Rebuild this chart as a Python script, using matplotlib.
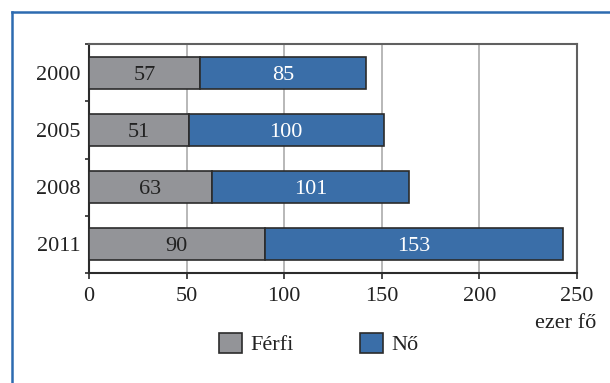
import matplotlib

matplotlib.use("Agg")

import matplotlib.pyplot as plt
from matplotlib.lines import Line2D
from matplotlib.patches import Patch

years = ["2000", "2005", "2008", "2011"]
ferfi = [57, 51, 63, 90]
no = [85, 100, 101, 153]
x_ticks = [0, 50, 100, 150, 200, 250]

GREY = "#939498"
BLUE = "#3a6ea8"
EDGE = "#2b2b2b"
TEXT = "#222222"

plt.rcParams["font.family"] = ["Liberation Serif", "DejaVu Serif"]
plt.rcParams["font.size"] = 16

fig = plt.figure(figsize=(6.10, 3.83), dpi=100)
ax = fig.add_axes([89 / 610, 1 - 273 / 383, 488 / 610, 229 / 383])

pos = list(range(len(years)))
ax.barh(pos, ferfi, height=0.56, color=GREY, edgecolor=EDGE,
        linewidth=1.2, zorder=3)
ax.barh(pos, no, left=ferfi, height=0.56, color=BLUE,
        edgecolor=EDGE, linewidth=1.2, zorder=3)

# value labels centred inside each segment
for p, m, f in zip(pos, ferfi, no):
    ax.text(m / 2, p, str(m), ha="center", va="center_baseline",
            color=TEXT, zorder=4)
    ax.text(m + f / 2, p, str(f), ha="center", va="center_baseline",
            color="white", zorder=4)

ax.set_xlim(0, 250)
ax.set_ylim(3.5, -0.5)
ax.set_xticks(x_ticks)
ax.set_yticks(pos)
ax.set_yticklabels(years)
ax.set_yticks([p - 0.5 for p in pos] + [len(pos) - 0.5], minor=True)
ax.tick_params(axis="y", which="major", length=0, pad=6, labelcolor=TEXT)
ax.tick_params(axis="y", which="minor", length=3, width=1.2, color=EDGE)
ax.tick_params(axis="x", length=4, width=1.2, color=EDGE, pad=6,
               labelcolor=TEXT)

ax.grid(axis="x", color="#ababab", linewidth=1.2, zorder=0)
for side in ("left", "bottom"):
    ax.spines[side].set_color(EDGE)
    ax.spines[side].set_linewidth(1.5)
for side in ("top", "right"):
    ax.spines[side].set_color("#606060")
    ax.spines[side].set_linewidth(1.5)

fig.text(596 / 610, 1 - 323 / 383, "ezer fő", ha="right", va="center",
         color=TEXT)

handles = [Patch(facecolor=GREY, edgecolor=EDGE, linewidth=1.2),
           Patch(facecolor=BLUE, edgecolor=EDGE, linewidth=1.2)]
fig.legend(handles, ["Férfi", "Nő"], ncol=2, frameon=False,
           loc="center left", bbox_to_anchor=(210 / 610, 1 - 344 / 383),
           handlelength=1.05, handleheight=1.05, handletextpad=0.35,
           columnspacing=3.0, labelcolor=TEXT, borderaxespad=0)

# blue frame along the top and left edges
fig.add_artist(Line2D([12 / 610, 12 / 610], [1 - 12 / 383, -0.05],
                      color="#2d6bb0", linewidth=1.8, transform=fig.transFigure))
fig.add_artist(Line2D([12 / 610, 1.05], [1 - 12 / 383, 1 - 12 / 383],
                      color="#2d6bb0", linewidth=1.8, transform=fig.transFigure))

fig.savefig("out.png", dpi=100)
